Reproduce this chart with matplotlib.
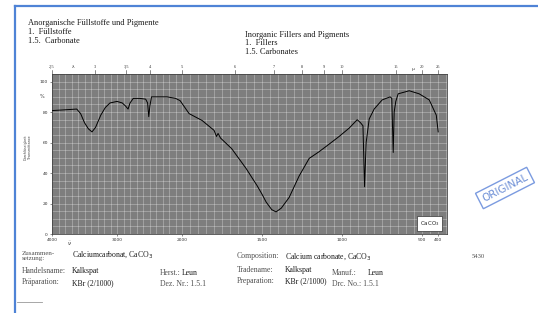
import numpy as np
import matplotlib
matplotlib.use("Agg")
from matplotlib import pyplot as plt
from matplotlib.lines import Line2D

# spectrum: wavenumber (cm-1) / transmittance (%)
wavenumber = [4000, 3800, 3620, 3560, 3500, 3440, 3385, 3330, 3250, 3180, 3108, 3000,
              2920, 2870, 2830, 2800, 2750, 2650, 2560, 2530, 2512, 2495, 2470, 2400,
              2230, 2100, 2030, 1956, 1875, 1800, 1785, 1775, 1760, 1690, 1600, 1530,
              1500, 1475, 1440, 1413, 1380, 1331, 1269, 1206, 1144, 1081, 1019, 956,
              906, 885, 870, 860, 850, 831, 800, 750, 700, 690, 681, 675, 665, 650,
              581, 519, 456, 412, 400]
transmittance = [81, 81.5, 82, 79, 73, 69, 67, 70, 78, 83, 86, 87,
                 86, 84, 82, 86, 89, 89, 88.5, 86, 77, 84, 90, 90,
                 90, 89, 87.5, 79, 74.5, 68, 64, 66, 63, 56, 43, 31.5,
                 26, 21, 16, 14.5, 17, 24, 38, 49.6, 54, 59, 64, 69.5,
                 75, 73, 71, 31, 60, 75.5, 82, 88, 90, 89, 53.5, 80, 87, 92,
                 94, 92, 88, 78, 67]

bottom_ticks = [4000, 3000, 2000, 1500, 1000, 500, 400]
y_ticks = [0, 20, 40, 60, 80, 100]
top_labels = ["2,5", "3", "3,5", "4", "5", "6", "7", "8", "9", "10", "15", "20", "25"]
top_microns = [2.5, 3, 3.5, 4, 5, 6, 7, 8, 9, 10, 15, 20, 25]

W, H = 538, 313


def px(x, y):
    return x / W, 1 - y / H


# chart paper: scale changes at 2000 cm-1 (increasing with wavenumber)
def fwd(w):
    w = np.asarray(w, dtype=float)
    return -np.where(w >= 2000, (4000 - w) * 0.065, 130 + (2000 - w) * 0.16)


def inv(p):
    p = -np.asarray(p, dtype=float)
    return np.where(p <= 130, 4000 - p / 0.065, 2000 - (p - 130) / 0.16)


fig = plt.figure(figsize=(W / 100, H / 100), dpi=100)
fig.patch.set_facecolor("white")

# blue frame of the screenshot
fig.add_artist(Line2D([15 / W, 1], [1 - 6 / H] * 2, color="#4f83d6", lw=1.6))
fig.add_artist(Line2D([15 / W] * 2, [0, 1 - 6 / H], color="#4f83d6", lw=1.6))
fig.add_artist(Line2D([17 / W, 42 / W], [1 - 302 / H] * 2, color="#999999", lw=0.6))

left, right, top, bot = 52, 447, 74, 234
ax = fig.add_axes([left / W, 1 - bot / H, (right - left) / W, (bot - top) / H])
ax.set_xscale("function", functions=(fwd, inv))
ax.set_xlim(4000, 345)
ax.set_ylim(0, 105)
ax.set_facecolor("#7e7e7e")

# grid of the chart paper
for w in list(range(3900, 2000, -100)) + list(range(2000, 340, -50)):
    ax.axvline(w, color="white", lw=0.7, alpha=0.28, zorder=1)
for t in range(5, 105, 5):
    ax.axhline(t, color="white", lw=0.7, alpha=0.28, zorder=1)

ax.plot(wavenumber, transmittance, color="black", lw=0.7, zorder=3)

ax.set_xticks(bottom_ticks)
ax.set_xticklabels([str(v) for v in bottom_ticks])
ax.set_yticks(y_ticks)
ax.set_yticklabels([str(v) for v in y_ticks])
ax.minorticks_off()
ax.tick_params(labelsize=3.2, length=1.5, width=0.4, pad=1.5, colors="#333333")
for s in ax.spines.values():
    s.set_color("#444444")
    s.set_linewidth(0.6)

ax.text(-0.02, 90, "%", transform=ax.get_yaxis_transform(), ha="right", va="center",
        fontsize=3.5, color="#333333")
ax.text(3730, -4, "$\\tilde{\\nu}$", ha="center", va="top", fontsize=4, color="#333333")

# wavelength scale on top
for m, lab in zip(top_microns, top_labels):
    ax.text(10000 / m, 1.03, lab, transform=ax.get_xaxis_transform(), ha="center",
            va="bottom", fontsize=3.2, color="#333333", family="Liberation Serif")
    ax.plot([10000 / m] * 2, [1.0, 1.025], transform=ax.get_xaxis_transform(),
            color="#333333", lw=0.4, clip_on=False)
ax.text(3680, 1.03, "λ", transform=ax.get_xaxis_transform(), ha="center", va="bottom",
        fontsize=3.2, color="#333333")
ax.text(560, 1.02, "μ", transform=ax.get_xaxis_transform(), ha="center", va="bottom",
        fontsize=3.2, color="#333333")

ax.text(452, 7, "CaCO$_3$", ha="center", va="center", fontsize=4, color="#222222",
        bbox=dict(boxstyle="square,pad=0.5", fc="white", ec="#333333", lw=0.5), zorder=5)

fig.text(*px(28, 147), "Durchlässigkeit\nTransmittance", rotation=90, ha="center",
         va="center", fontsize=2.4, color="#444444")

serif = "Liberation Serif"
dark = "#1a1a1a"
grey = "#505050"
fs = 5.6

# header
for yy, s in zip([23, 32, 41], ["Anorganische Füllstoffe und Pigmente", "1.  Füllstoffe",
                                  "1.5.  Carbonate"]):
    fig.text(*px(28, yy), s, fontsize=6.0, family=serif, color=dark, va="center")
for yy, s in zip([35, 43, 52], ["Inorganic Fillers and Pigments", "1.  Fillers",
                                  "1.5. Carbonates"]):
    fig.text(*px(245, yy), s, fontsize=6.0, family=serif, color=dark, va="center")

# footer
fig.text(*px(22, 251), "Zusammen-\nsetzung:", fontsize=5.0, family=serif, color=grey,
         va="top", linespacing=1.0)
fig.text(*px(72, 254), "Calciumcarbonat, CaCO$_3$", fontsize=fs, family=serif, color=dark,
         va="center")
fig.text(*px(22, 271), "Handelsname:", fontsize=fs, family=serif, color=grey, va="center")
fig.text(*px(72, 271), "Kalkspat", fontsize=fs, family=serif, color=dark, va="center")
fig.text(*px(22, 282), "Präparation:", fontsize=fs, family=serif, color=grey, va="center")
fig.text(*px(72, 283), "KBr (2/1000)", fontsize=fs, family=serif, color=dark, va="center")
fig.text(*px(160, 273), "Herst.:", fontsize=fs, family=serif, color=grey, va="center")
fig.text(*px(182, 273), "Leun", fontsize=fs, family=serif, color=dark, va="center")
fig.text(*px(160, 284), "Dez. Nr.: 1.5.1", fontsize=fs, family=serif, color=grey, va="center")

fig.text(*px(237, 256), "Composition:", fontsize=fs, family=serif, color=grey, va="center")
fig.text(*px(285, 256), "Calcium carbonate, CaCO$_3$", fontsize=fs, family=serif,
         color=dark, va="center")
fig.text(*px(237, 270), "Tradename:", fontsize=fs, family=serif, color=grey, va="center")
fig.text(*px(285, 270), "Kalkspat", fontsize=fs, family=serif, color=dark, va="center")
fig.text(*px(237, 281), "Preparation:", fontsize=fs, family=serif, color=grey, va="center")
fig.text(*px(285, 281), "KBr (2/1000)", fontsize=fs, family=serif, color=dark, va="center")
fig.text(*px(332, 273), "Manuf.:", fontsize=fs, family=serif, color=grey, va="center")
fig.text(*px(368, 273), "Leun", fontsize=fs, family=serif, color=dark, va="center")
fig.text(*px(332, 284), "Drc. No.: 1.5.1", fontsize=fs, family=serif, color=grey,
         va="center")
fig.text(*px(478, 257), "5430", fontsize=4.8, family=serif, color=grey, va="center",
         ha="center")

# stamp
fig.text(*px(505, 188), "ORIGINAL", rotation=27, ha="center", va="center", fontsize=7.5,
         color="#6d8fd6", family="DejaVu Sans",
         bbox=dict(boxstyle="square,pad=0.35", fc="none", ec="#7b9be0", lw=1.0))

fig.savefig("out.png", dpi=100)
